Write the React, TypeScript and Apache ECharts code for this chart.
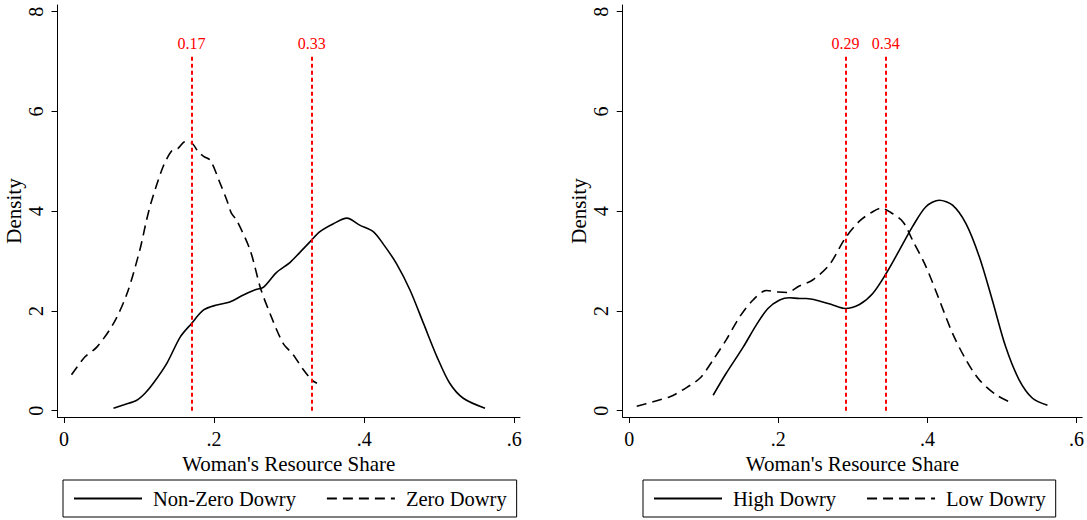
import React, { useEffect, useRef } from "react";
import * as echarts from "echarts";

const FONT = '"Liberation Serif", "Times New Roman", serif';

const xTicks = [0, 0.2, 0.4, 0.6];
const xTickLabels = ["0", ".2", ".4", ".6"];
const yTicks = [0, 2, 4, 6, 8];
const yTickLabels = ["0", "2", "4", "6", "8"];

const xTitle = "Woman's Resource Share";
const yTitle = "Density";

// Left panel
const nonZeroDowry: [number, number][] = [
  [0.066, 0.05], [0.08, 0.12], [0.097, 0.21], [0.108, 0.35], [0.119, 0.55],
  [0.137, 0.95], [0.155, 1.48], [0.17, 1.75], [0.186, 2.02], [0.2035, 2.12],
  [0.221, 2.18], [0.239, 2.32], [0.254, 2.42], [0.266, 2.48], [0.283, 2.77],
  [0.301, 2.97], [0.314, 3.17], [0.328, 3.39], [0.341, 3.59], [0.359, 3.75],
  [0.377, 3.86], [0.394, 3.72], [0.412, 3.59], [0.425, 3.35], [0.443, 2.95],
  [0.461, 2.42], [0.479, 1.75], [0.497, 1.08], [0.514, 0.55], [0.532, 0.25],
  [0.561, 0.05],
];
const zeroDowry: [number, number][] = [
  [0.01, 0.72], [0.028, 1.08], [0.044, 1.28], [0.066, 1.75], [0.084, 2.35],
  [0.101, 3.22], [0.11, 3.82], [0.117, 4.22], [0.132, 4.89], [0.144, 5.22],
  [0.152, 5.26], [0.161, 5.39], [0.17, 5.37], [0.179, 5.19], [0.186, 5.1],
  [0.195, 5.02], [0.208, 4.56], [0.217, 4.22], [0.223, 3.96], [0.23, 3.82],
  [0.248, 3.22], [0.262, 2.45], [0.275, 1.93], [0.292, 1.35], [0.305, 1.13],
  [0.319, 0.82], [0.33, 0.62], [0.337, 0.55],
];
const leftRefValues = [0.17, 0.33];
const leftRefLabels = ["0.17", "0.33"];

// Right panel
const highDowry: [number, number][] = [
  [0.1125, 0.31], [0.13, 0.75], [0.153, 1.28], [0.1705, 1.72], [0.186, 2.05],
  [0.2017, 2.22], [0.215, 2.265], [0.2285, 2.25], [0.2375, 2.25], [0.255, 2.2],
  [0.273, 2.12], [0.2893, 2.05], [0.3088, 2.13], [0.3266, 2.35], [0.3446, 2.75],
  [0.3624, 3.22], [0.38, 3.69], [0.398, 4.09], [0.416, 4.22], [0.4337, 4.12],
  [0.4517, 3.75], [0.4695, 3.09], [0.487, 2.22], [0.505, 1.28], [0.523, 0.62],
  [0.541, 0.25], [0.561, 0.11],
];
const lowDowry: [number, number][] = [
  [0.01, 0.09], [0.032, 0.18], [0.0545, 0.28], [0.072, 0.42], [0.0946, 0.65],
  [0.1125, 1.02], [0.13, 1.42], [0.148, 1.88], [0.166, 2.22], [0.184, 2.41],
  [0.2, 2.38], [0.212, 2.37], [0.228, 2.5], [0.246, 2.62], [0.2687, 2.93],
  [0.2893, 3.45], [0.3088, 3.8], [0.3266, 3.99], [0.338, 4.06], [0.349, 3.99],
  [0.367, 3.79], [0.38, 3.42], [0.398, 2.89], [0.416, 2.22], [0.4337, 1.55],
  [0.4517, 1.02], [0.4695, 0.62], [0.492, 0.32], [0.514, 0.15],
];
const rightRefValues = [0.29, 0.344];
const rightRefLabels = ["0.29", "0.34"];

const refLineTop = 7.13;

const leftNames = ["Non-Zero Dowry", "Zero Dowry"];
const rightNames = ["High Dowry", "Low Dowry"];

function fmtFrom(ticks: number[], labels: string[]) {
  return (v: number) => {
    const i = ticks.findIndex((t) => Math.abs(t - v) < 1e-6);
    return i >= 0 ? labels[i] : "";
  };
}

function mkX(gridIndex: number, min: number, max: number) {
  return {
    type: "value",
    gridIndex,
    min,
    max,
    axisLine: { show: true, onZero: false, lineStyle: { color: "#000", width: 1 } },
    axisTick: { show: true, customValues: xTicks, length: 6, lineStyle: { color: "#000", width: 1 } },
    axisLabel: {
      customValues: xTicks,
      formatter: fmtFrom(xTicks, xTickLabels),
      fontFamily: FONT,
      fontSize: 20,
      color: "#000",
      margin: 12,
    },
    splitLine: { show: false },
    name: xTitle,
    nameLocation: "middle",
    nameGap: 31,
    nameTextStyle: { fontFamily: FONT, fontSize: 21, color: "#000" },
  };
}

function mkY(gridIndex: number) {
  return {
    type: "value",
    gridIndex,
    min: -0.1263,
    max: 8.134,
    axisLine: { show: true, onZero: false, lineStyle: { color: "#000", width: 1 } },
    axisTick: { show: true, customValues: yTicks, length: 6, lineStyle: { color: "#000", width: 1 } },
    axisLabel: {
      customValues: yTicks,
      formatter: fmtFrom(yTicks, yTickLabels),
      rotate: 90,
      fontFamily: FONT,
      fontSize: 20,
      color: "#000",
      margin: 12,
    },
    splitLine: { show: false },
    name: yTitle,
    nameLocation: "middle",
    nameGap: 30,
    nameRotate: 90,
    nameTextStyle: { fontFamily: FONT, fontSize: 21, color: "#000" },
  };
}

function mkCurve(name: string, data: [number, number][], idx: number, dashed: boolean) {
  return {
    type: "line",
    name,
    xAxisIndex: idx,
    yAxisIndex: idx,
    data,
    symbol: "none",
    showSymbol: false,
    smooth: 0.3,
    color: "#000",
    lineStyle: { color: "#000", width: 1.6, type: dashed ? [10, 6] : "solid" },
    z: 3,
  };
}

function mkRefs(idx: number, values: number[], labels: string[]) {
  return {
    type: "line",
    name: "ref" + idx,
    xAxisIndex: idx,
    yAxisIndex: idx,
    data: [],
    symbol: "none",
    z: 4,
    markLine: {
      silent: true,
      animation: false,
      symbol: ["none", "none"],
      lineStyle: { color: "#ff0000", type: [4, 3], width: 2 },
      label: {
        show: true,
        position: "end",
        formatter: "{b}",
        color: "#ff0000",
        fontFamily: FONT,
        fontSize: 16,
        distance: 4,
      },
      data: values.map((v, i) => [
        { name: labels[i], coord: [v, 0] },
        { name: labels[i], coord: [v, refLineTop] },
      ]),
    },
  };
}

function mkLegend(names: string[], left: number) {
  return {
    data: names,
    left,
    top: 480,
    orient: "horizontal",
    itemWidth: 68,
    itemHeight: 14,
    itemGap: 30,
    padding: [8, 10, 8, 10],
    borderColor: "#000",
    borderWidth: 1,
    borderRadius: 0,
    backgroundColor: "#fff",
    itemStyle: { opacity: 0 },
    textStyle: { fontFamily: FONT, fontSize: 20.5, color: "#000", padding: [0, 0, 0, 6] },
    selectedMode: false,
  };
}

export default function App() {
  const ref = useRef<HTMLDivElement>(null);
  useEffect(() => {
    if (!ref.current) return;
    const chart = echarts.init(ref.current, undefined, { renderer: "svg" });
    chart.setOption({
      animation: false,
      backgroundColor: "#fff",
      grid: [
        { left: 57.5, top: 5, width: 462.5, height: 412 },
        { left: 622.7, top: 5, width: 460.3, height: 412 },
      ],
      xAxis: [mkX(0, -0.00866, 0.6076), mkX(1, -0.00884, 0.6076)],
      yAxis: [mkY(0), mkY(1)],
      legend: [mkLegend(leftNames, 63), mkLegend(rightNames, 643)],
      series: [
        mkCurve(leftNames[0], nonZeroDowry, 0, false),
        mkCurve(leftNames[1], zeroDowry, 0, true),
        mkRefs(0, leftRefValues, leftRefLabels),
        mkCurve(rightNames[0], highDowry, 1, false),
        mkCurve(rightNames[1], lowDowry, 1, true),
        mkRefs(1, rightRefValues, rightRefLabels),
      ],
    });
    return () => chart.dispose();
  }, []);
  return (
    <div
      ref={ref}
      style={{ position: "fixed", left: 0, top: 0, width: 1087, height: 520, background: "#fff" }}
    />
  );
}
